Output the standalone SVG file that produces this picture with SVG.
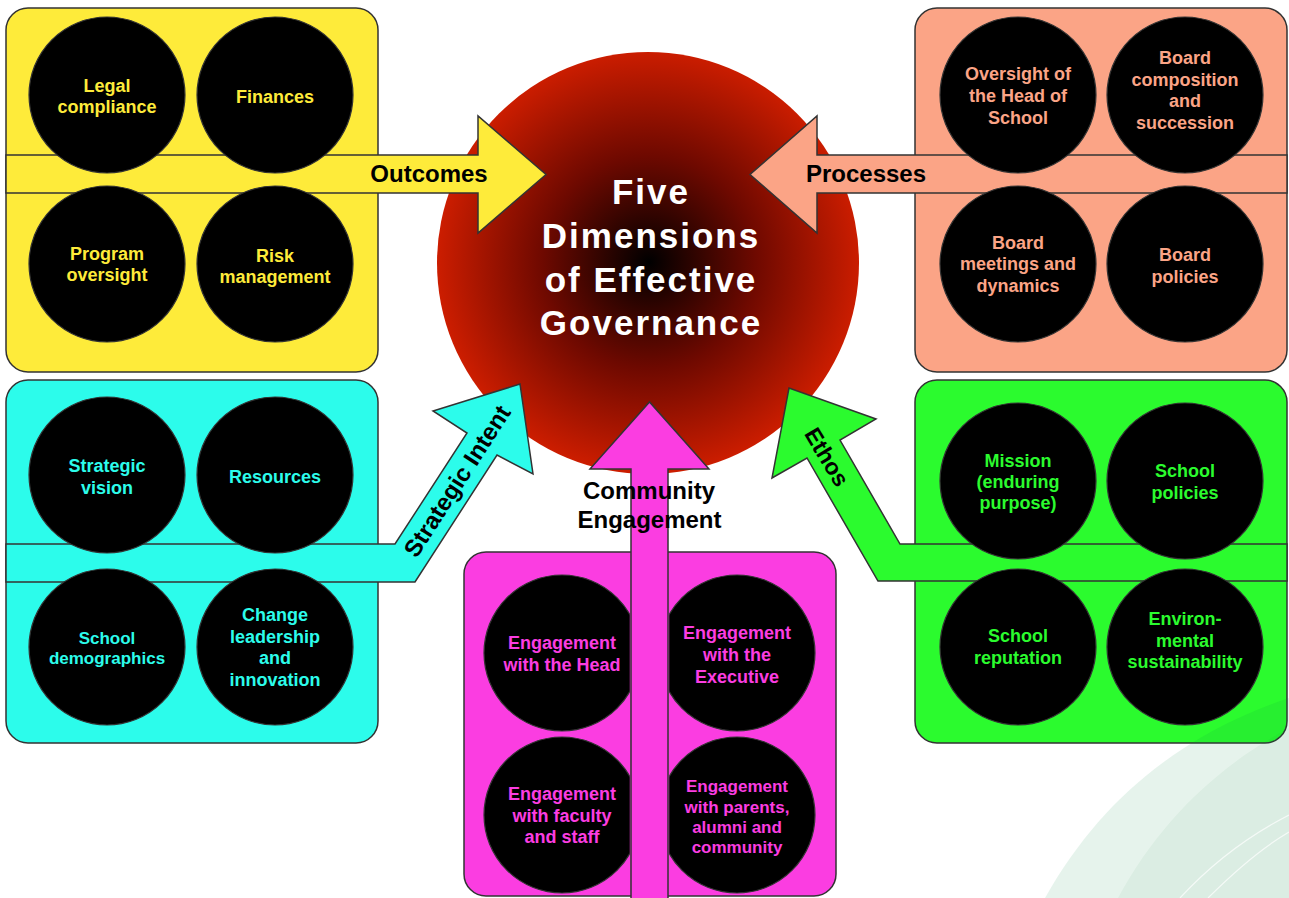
<svg xmlns="http://www.w3.org/2000/svg" width="1289" height="898" viewBox="0 0 1289 898">
<defs>
<radialGradient id="core" cx="649" cy="262" r="212" gradientUnits="userSpaceOnUse">
<stop offset="0" stop-color="#000000"/>
<stop offset="0.5" stop-color="#6e0900"/>
<stop offset="1" stop-color="#cc1d00"/>
</radialGradient>
<clipPath id="clipL"><rect x="0" y="0" width="629.8" height="898"/></clipPath>
<clipPath id="clipR"><rect x="669.2" y="0" width="620" height="898"/></clipPath>
<style>
.panel{stroke:#333;stroke-width:1.5}
.c{fill:#000;stroke:#333;stroke-width:1.2}
.arrow{stroke:#333;stroke-width:1.5;stroke-linejoin:miter}
text{font-family:"Liberation Sans",Arial,Helvetica,sans-serif;font-weight:bold;text-anchor:middle}
.t{font-size:18px}
.s{font-size:17px}
.lbl{font-size:24px;fill:#000}
.title{font-size:35px;fill:#fff;letter-spacing:2px}
.ty{fill:#FEEB3A}.tp{fill:#FBA486}.tc{fill:#2CFCEB}.tg{fill:#2BFB2E}.tm{fill:#FB3DE1}
</style>
</defs>
<rect width="1289" height="898" fill="#fff"/>

<g id="node-five-dimensions">
<circle cx="648" cy="263" r="211" fill="url(#core)"/>
<text class="title" x="651" y="204">Five</text>
<text class="title" x="651" y="248">Dimensions</text>
<text class="title" x="651" y="292">of Effective</text>
<text class="title" x="651" y="335">Governance</text>
</g>

<g id="panel-outcomes"><rect class="panel" x="6" y="8" width="372" height="364" rx="22" fill="#FEEB3A"/></g>
<g id="panel-processes"><rect class="panel" x="915" y="8" width="372" height="364" rx="22" fill="#FBA486"/></g>
<g id="panel-strategic-intent"><rect class="panel" x="6" y="380" width="372" height="363" rx="22" fill="#2CFCEB"/></g>
<g id="panel-ethos"><rect class="panel" x="915" y="380" width="372" height="363" rx="22" fill="#2BFB2E"/></g>
<g id="panel-community"><rect class="panel" x="464" y="552" width="372" height="344" rx="22" fill="#FB3DE1"/></g>

<g id="connectors">
<polygon class="arrow" fill="#FEEB3A" points="6,155 478,155 478,116 546,174.5 478,233 478,193 6,193"/>
<text class="lbl" x="429" y="182">Outcomes</text>
<polygon class="arrow" fill="#FBA486" points="1287,155 817,155 817,116 750,174.5 817,233 817,193 1287,193"/>
<text class="lbl" x="866" y="182">Processes</text>
<polygon class="arrow" fill="#2CFCEB" points="6,544 395,544 467,433 433,411 520,384 533,474 497,455 415,582 6,582"/>
<text class="lbl" transform="translate(457,481) rotate(-57)" x="0" y="8.5">Strategic Intent</text>
<polygon class="arrow" fill="#2BFB2E" points="1287,544 900,544 840,440 876,419 789,388 772,478 807,458 878,581 1287,581"/>
<text class="lbl" style="font-size:23px" transform="translate(827,457) rotate(59)" x="0" y="8">Ethos</text>
<polygon class="arrow" fill="#FB3DE1" points="631,900 631,469 590,469 649.5,402 709,469 668,469 668,900"/>
<text class="lbl" x="649" y="499">Community</text>
<text class="lbl" x="649.5" y="528">Engagement</text>
</g>

<g id="node-legal-compliance"><circle class="c" cx="107" cy="95" r="78"/><text class="t ty" x="107" y="92">Legal</text><text class="t ty" x="107" y="113">compliance</text></g>
<g id="node-finances"><circle class="c" cx="275" cy="95" r="78"/><text class="t ty" x="275" y="103">Finances</text></g>
<g id="node-program-oversight"><circle class="c" cx="107" cy="264" r="78"/><text class="t ty" x="107" y="260">Program</text><text class="t ty" x="107" y="281">oversight</text></g>
<g id="node-risk-management"><circle class="c" cx="275" cy="264" r="78"/><text class="t ty" x="275" y="262">Risk</text><text class="t ty" x="275" y="283">management</text></g>

<g id="node-oversight-head"><circle class="c" cx="1018" cy="95" r="78"/><text class="t tp" x="1018" y="80">Oversight of</text><text class="t tp" x="1018" y="102">the Head of</text><text class="t tp" x="1018" y="124">School</text></g>
<g id="node-board-composition"><circle class="c" cx="1185" cy="95" r="78"/><text class="t tp" x="1185" y="64">Board</text><text class="t tp" x="1185" y="86">composition</text><text class="t tp" x="1185" y="107">and</text><text class="t tp" x="1185" y="129">succession</text></g>
<g id="node-board-meetings"><circle class="c" cx="1018" cy="264" r="78"/><text class="t tp" x="1018" y="249">Board</text><text class="t tp" x="1018" y="270">meetings and</text><text class="t tp" x="1018" y="292">dynamics</text></g>
<g id="node-board-policies"><circle class="c" cx="1185" cy="264" r="78"/><text class="t tp" x="1185" y="261">Board</text><text class="t tp" x="1185" y="283">policies</text></g>

<g id="node-strategic-vision"><circle class="c" cx="107" cy="475" r="78"/><text class="t tc" x="107" y="472">Strategic</text><text class="t tc" x="107" y="494">vision</text></g>
<g id="node-resources"><circle class="c" cx="275" cy="475" r="78"/><text class="t tc" x="275" y="483">Resources</text></g>
<g id="node-school-demographics"><circle class="c" cx="107" cy="647" r="78"/><text class="s tc" x="107" y="644">School</text><text class="s tc" x="107" y="664">demographics</text></g>
<g id="node-change-leadership"><circle class="c" cx="275" cy="647" r="78"/><text class="t tc" x="275" y="621">Change</text><text class="t tc" x="275" y="643">leadership</text><text class="t tc" x="275" y="664">and</text><text class="t tc" x="275" y="686">innovation</text></g>

<g id="node-mission"><circle class="c" cx="1018" cy="481" r="78"/><text class="t tg" x="1018" y="467">Mission</text><text class="t tg" x="1018" y="488">(enduring</text><text class="t tg" x="1018" y="509">purpose)</text></g>
<g id="node-school-policies"><circle class="c" cx="1185" cy="481" r="78"/><text class="t tg" x="1185" y="477">School</text><text class="t tg" x="1185" y="499">policies</text></g>
<g id="node-school-reputation"><circle class="c" cx="1018" cy="647" r="78"/><text class="t tg" x="1018" y="642">School</text><text class="t tg" x="1018" y="664">reputation</text></g>
<g id="node-environmental"><circle class="c" cx="1185" cy="647" r="78"/><text class="t tg" x="1185" y="625">Environ-</text><text class="t tg" x="1185" y="647">mental</text><text class="t tg" x="1185" y="668">sustainability</text></g>

<g id="node-engagement-head"><circle class="c" cx="562" cy="653" r="78" clip-path="url(#clipL)"/><text class="t tm" x="562" y="649">Engagement</text><text class="t tm" x="562" y="671">with the Head</text></g>
<g id="node-engagement-executive"><circle class="c" cx="737" cy="653" r="78" clip-path="url(#clipR)"/><text class="t tm" x="737" y="639">Engagement</text><text class="t tm" x="737" y="661">with the</text><text class="t tm" x="737" y="683">Executive</text></g>
<g id="node-engagement-faculty"><circle class="c" cx="562" cy="815" r="78" clip-path="url(#clipL)"/><text class="t tm" x="562" y="800">Engagement</text><text class="t tm" x="562" y="822">with faculty</text><text class="t tm" x="562" y="843">and staff</text></g>
<g id="node-engagement-parents"><circle class="c" cx="737" cy="815" r="78" clip-path="url(#clipR)"/><text class="s tm" x="737" y="792">Engagement</text><text class="s tm" x="737" y="813">with parents,</text><text class="s tm" x="737" y="833">alumni and</text><text class="s tm" x="737" y="853">community</text></g>

<g id="decoration">
<path d="M1045,898 C1100,800 1180,735 1289,698 L1289,898 Z" fill="#0a8a40" fill-opacity="0.1"/>
<path d="M1118,898 C1160,820 1220,765 1289,728 L1289,898 Z" fill="#0a8a40" fill-opacity="0.05"/>
<path d="M1180,898 C1215,860 1250,835 1289,815" fill="none" stroke="#fff" stroke-opacity="0.7" stroke-width="1.2"/>
<path d="M1208,898 C1240,866 1265,846 1289,832" fill="none" stroke="#fff" stroke-opacity="0.7" stroke-width="1.2"/>
</g>
</svg>
